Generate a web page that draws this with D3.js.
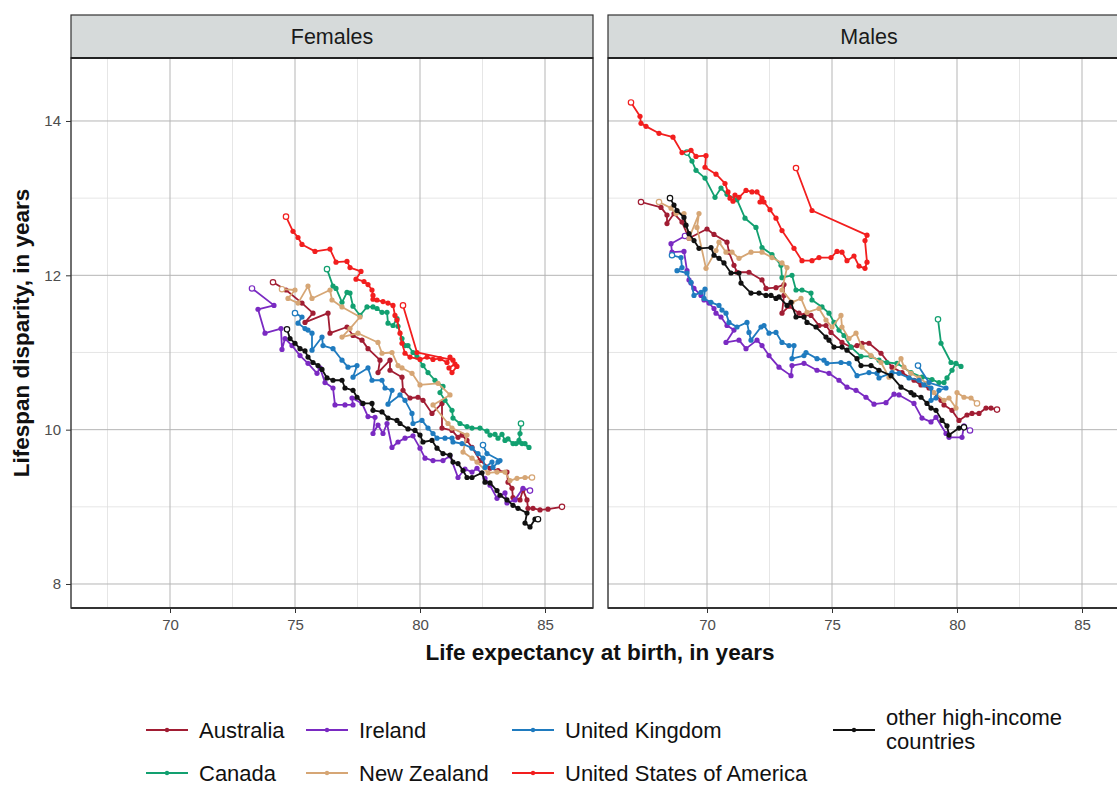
<!DOCTYPE html>
<html><head><meta charset="utf-8">
<script src="https://cdn.jsdelivr.net/npm/d3@7"></script>
<style>body{margin:0;background:#fff;overflow:hidden} text{font-family:"Liberation Sans", Arial, sans-serif;}</style>
</head><body><svg id="c" width="1117" height="785"></svg>
<script>
// ---------- categories ----------
const panels = ["Females", "Males"];
const countries = ["Australia", "Canada", "Ireland", "New Zealand", "United Kingdom", "United States of America", "other high-income countries"];
const colors = ["#A11D33", "#12A070", "#7A2AC2", "#D6A675", "#1F7BBF", "#F21E1E", "#111111"];
const xTicks = [70, 75, 80, 85];
const yTicks = [8, 10, 12, 14];
const xLabel = "Life expectancy at birth, in years";
const yLabel = "Lifespan disparity, in years";

// ---------- data: [life expectancy, lifespan disparity] ----------
const femAustralia = [[74.12,11.91],[74.64,11.81],[75.28,11.64],[75.72,11.51],[75.40,11.39],[76.32,11.51],[76.40,11.25],[77.08,11.33],[77.32,11.22],[77.68,11.16],[77.92,11.05],[78.40,10.90],[78.32,10.74],[78.80,10.90],[78.80,10.77],[79.28,10.68],[79.32,10.51],[79.60,10.41],[79.92,10.42],[80.12,10.38],[80.48,10.21],[80.88,10.34],[80.88,10.02],[81.28,9.99],[81.52,9.90],[81.68,9.93],[81.88,9.86],[82.08,9.77],[82.40,9.60],[82.80,9.50],[83.12,9.47],[83.48,9.45],[83.52,9.32],[83.68,9.24],[83.72,9.12],[84.00,9.09],[84.12,9.22],[84.28,9.09],[84.32,8.98],[84.52,8.98],[84.80,8.96],[85.12,8.97],[85.68,9.00]];
const femCanada = [[76.28,12.08],[76.52,11.86],[76.64,11.83],[76.88,11.65],[77.08,11.78],[77.20,11.77],[77.32,11.60],[77.60,11.48],[77.88,11.59],[78.12,11.59],[78.28,11.57],[78.48,11.52],[78.68,11.52],[78.72,11.38],[78.92,11.35],[79.08,11.44],[79.12,11.34],[79.28,11.18],[79.40,11.09],[79.52,11.09],[79.72,11.00],[79.88,10.94],[80.12,10.83],[80.32,10.74],[80.60,10.64],[80.92,10.56],[80.80,10.48],[81.00,10.38],[81.28,10.25],[81.32,10.15],[81.60,10.08],[81.88,10.04],[82.08,10.02],[82.40,10.02],[82.68,9.98],[82.80,9.93],[83.00,9.94],[83.12,9.89],[83.28,9.94],[83.40,9.86],[83.52,9.88],[83.72,9.82],[83.84,9.82],[84.08,9.82],[84.20,9.82],[84.36,9.77],[83.96,9.86],[84.00,9.95],[84.04,10.08]];
const femIreland = [[73.28,11.83],[74.16,11.61],[73.52,11.56],[73.80,11.25],[74.44,11.31],[74.48,11.04],[74.60,11.18],[74.88,11.09],[75.20,10.96],[75.52,10.86],[75.88,10.73],[76.00,10.80],[76.20,10.61],[76.52,10.54],[76.60,10.32],[77.00,10.32],[77.32,10.32],[77.28,10.41],[77.68,10.34],[77.92,10.17],[78.20,10.16],[78.12,9.95],[78.32,10.06],[78.52,9.95],[78.68,10.08],[78.88,9.77],[79.12,9.84],[79.40,9.89],[79.72,9.92],[80.00,9.76],[80.20,9.63],[80.52,9.60],[80.92,9.60],[81.20,9.66],[81.52,9.38],[81.80,9.49],[82.08,9.45],[82.28,9.50],[82.60,9.37],[82.80,9.28],[83.08,9.11],[83.40,9.18],[83.48,9.05],[83.80,9.09],[84.12,9.24],[84.40,9.21]];
const femNewZealand = [[74.48,11.82],[75.00,11.81],[74.72,11.70],[75.12,11.64],[75.52,11.86],[75.68,11.70],[76.40,11.81],[76.48,11.68],[76.88,11.59],[77.60,11.46],[77.20,11.31],[76.88,11.20],[77.52,11.25],[78.32,11.13],[78.48,10.99],[78.88,11.00],[79.12,10.83],[79.28,10.80],[79.68,10.73],[80.00,10.58],[80.72,10.60],[81.20,10.45],[80.52,10.32],[81.12,10.08],[81.28,10.02],[81.88,9.93],[81.72,9.71],[82.08,9.63],[82.28,9.58],[82.72,9.44],[83.08,9.45],[83.40,9.45],[83.60,9.34],[83.88,9.37],[84.20,9.38],[84.48,9.38]];
const femUK = [[75.00,11.51],[75.28,11.46],[75.12,11.38],[75.40,11.31],[75.52,11.29],[75.68,11.25],[75.68,11.03],[76.08,11.20],[76.12,11.09],[76.52,11.05],[76.88,10.90],[77.12,10.81],[77.48,10.83],[77.32,10.68],[77.92,10.80],[78.08,10.64],[78.48,10.64],[78.60,10.54],[78.88,10.51],[78.72,10.33],[79.20,10.45],[79.40,10.38],[79.68,10.21],[79.72,10.08],[80.08,10.12],[80.32,10.02],[80.52,9.95],[80.68,9.89],[81.00,9.89],[81.28,9.89],[81.32,9.84],[81.68,9.82],[82.08,9.76],[82.32,9.69],[82.52,9.63],[82.60,9.51],[82.88,9.58],[82.92,9.51],[83.12,9.58],[83.20,9.60],[82.68,9.69],[82.52,9.80]];
const femUSA = [[74.64,12.76],[74.92,12.57],[75.12,12.49],[75.28,12.40],[75.80,12.31],[76.40,12.34],[76.64,12.17],[77.08,12.18],[77.20,12.10],[77.64,12.05],[77.44,11.95],[77.76,11.92],[77.92,11.88],[78.08,11.81],[78.12,11.74],[78.12,11.69],[78.28,11.68],[78.52,11.66],[78.72,11.64],[78.92,11.61],[79.00,11.48],[79.08,11.42],[79.20,11.25],[79.28,11.12],[79.40,10.99],[79.60,10.94],[80.00,10.91],[80.28,10.94],[80.52,10.91],[80.80,10.92],[81.08,10.87],[81.20,10.94],[81.40,10.85],[81.16,10.80],[81.28,10.74],[81.48,10.82],[81.32,10.90],[79.88,11.00],[79.32,11.61]];
const femOther = [[74.68,11.30],[74.80,11.18],[75.00,11.12],[75.20,11.05],[75.40,11.02],[75.52,10.94],[75.72,10.87],[75.92,10.83],[76.08,10.78],[76.28,10.67],[76.52,10.64],[76.88,10.64],[77.00,10.54],[77.32,10.51],[77.48,10.42],[77.72,10.34],[78.08,10.34],[78.12,10.25],[78.48,10.23],[78.72,10.15],[79.08,10.12],[79.20,10.08],[79.52,10.01],[79.80,9.99],[80.00,9.93],[80.12,9.84],[80.48,9.86],[80.68,9.76],[80.92,9.69],[81.20,9.67],[81.32,9.58],[81.52,9.56],[81.72,9.47],[81.88,9.38],[82.08,9.38],[82.48,9.44],[82.60,9.32],[82.80,9.31],[83.08,9.21],[83.20,9.15],[83.48,9.09],[83.72,9.02],[83.92,8.98],[84.28,8.92],[84.20,8.79],[84.40,8.74],[84.60,8.84],[84.72,8.84]];

const malAustralia = [[67.36,12.95],[68.16,12.88],[68.40,12.78],[68.40,12.67],[68.68,12.80],[69.00,12.69],[69.28,12.48],[70.00,12.60],[70.28,12.53],[70.80,12.43],[70.88,12.30],[71.08,12.13],[71.20,12.04],[71.68,12.04],[72.20,11.94],[72.36,11.83],[72.76,11.84],[73.08,11.88],[73.08,11.74],[73.00,11.51],[73.28,11.60],[73.68,11.51],[73.88,11.48],[74.16,11.48],[74.48,11.35],[74.76,11.35],[74.96,11.26],[75.40,11.13],[75.76,11.07],[76.00,11.09],[76.20,11.12],[76.48,11.12],[76.96,10.99],[77.40,10.81],[77.80,10.74],[78.28,10.64],[78.56,10.58],[78.88,10.54],[79.36,10.38],[79.48,10.32],[79.80,10.25],[80.08,10.12],[80.40,10.19],[80.60,10.21],[80.88,10.21],[81.16,10.28],[81.36,10.28],[81.60,10.26]];
const malCanada = [[69.20,13.59],[69.40,13.48],[69.56,13.36],[69.92,13.26],[70.32,13.01],[70.56,13.13],[70.80,13.05],[71.20,12.98],[71.52,12.74],[71.96,12.62],[72.20,12.36],[72.60,12.27],[72.96,12.13],[73.00,11.97],[73.40,12.00],[73.56,11.81],[73.80,11.81],[74.16,11.77],[74.20,11.68],[74.60,11.59],[74.88,11.51],[75.08,11.39],[75.28,11.29],[75.48,11.22],[75.76,11.07],[76.16,10.95],[76.56,10.95],[76.88,10.90],[77.20,10.87],[77.60,10.86],[78.16,10.74],[78.60,10.68],[79.00,10.65],[79.28,10.61],[79.48,10.61],[79.60,10.67],[79.80,10.77],[79.96,10.86],[80.16,10.82],[79.76,10.87],[79.36,11.12],[79.24,11.43]];
const malIreland = [[69.12,12.51],[68.56,12.41],[68.60,12.30],[69.08,12.31],[69.20,12.06],[69.28,11.94],[69.36,11.90],[69.48,11.83],[69.76,11.74],[69.88,11.68],[70.08,11.64],[70.28,11.57],[70.36,11.51],[70.56,11.46],[70.80,11.35],[71.08,11.29],[70.76,11.13],[71.28,11.16],[71.56,11.05],[72.00,11.16],[72.20,11.09],[72.48,10.96],[72.88,10.81],[73.36,10.70],[73.40,10.83],[73.88,10.86],[74.40,10.77],[74.88,10.73],[75.28,10.64],[75.60,10.55],[75.96,10.51],[76.36,10.42],[76.68,10.33],[77.16,10.35],[77.48,10.46],[77.68,10.45],[78.28,10.34],[78.60,10.15],[78.96,10.10],[79.16,10.16],[79.56,9.95],[79.68,9.90],[80.20,9.90],[80.28,10.05],[80.52,9.99]];
const malNewZealand = [[68.08,12.95],[68.56,12.87],[68.76,12.80],[69.08,12.80],[69.28,12.48],[69.68,12.80],[69.60,12.62],[69.96,12.09],[70.36,12.32],[70.48,12.43],[70.76,12.30],[71.00,12.30],[71.28,12.22],[71.76,12.30],[72.20,12.30],[72.60,12.23],[73.00,12.16],[73.20,12.10],[73.00,11.81],[73.40,11.65],[73.76,11.70],[74.00,11.52],[74.48,11.57],[74.76,11.42],[75.00,11.33],[75.36,11.48],[75.40,11.33],[75.68,11.18],[75.96,11.25],[76.20,11.07],[76.56,10.96],[76.96,10.87],[77.28,10.68],[77.76,10.92],[77.88,10.81],[78.16,10.73],[78.48,10.67],[78.80,10.60],[79.08,10.48],[79.48,10.38],[79.68,10.41],[79.96,10.28],[80.00,10.48],[80.28,10.42],[80.56,10.41],[80.80,10.34]];
const malUK = [[68.60,12.26],[68.96,12.23],[69.00,12.10],[68.80,12.06],[69.20,12.03],[69.36,11.91],[69.48,11.74],[69.76,11.78],[69.92,11.82],[69.88,11.70],[70.16,11.65],[70.48,11.61],[70.60,11.55],[70.76,11.51],[70.88,11.39],[71.20,11.33],[71.60,11.39],[71.68,11.26],[71.76,11.16],[72.16,11.33],[72.28,11.35],[72.48,11.25],[72.76,11.26],[73.00,11.13],[73.28,11.09],[73.48,11.09],[73.40,10.92],[73.88,10.96],[73.96,11.00],[74.40,10.92],[74.68,10.90],[74.80,10.86],[75.36,10.87],[75.68,10.86],[76.00,10.70],[76.48,10.74],[76.80,10.73],[76.88,10.67],[77.40,10.74],[77.68,10.73],[78.08,10.67],[78.48,10.64],[78.68,10.58],[78.96,10.54],[78.96,10.38],[79.16,10.41],[79.28,10.51],[79.56,10.54],[78.88,10.61],[78.44,10.83]];
const malUSA = [[66.96,14.24],[67.32,14.06],[67.36,13.97],[67.56,13.93],[68.08,13.84],[68.64,13.79],[69.00,13.59],[69.36,13.62],[69.56,13.54],[69.96,13.55],[69.92,13.40],[70.36,13.31],[70.72,13.19],[70.84,13.08],[70.92,13.00],[71.04,12.96],[71.12,13.04],[71.28,13.01],[71.56,13.10],[71.80,13.08],[72.00,13.08],[72.20,13.00],[72.12,12.95],[72.28,12.95],[72.52,12.85],[72.76,12.74],[73.00,12.58],[73.48,12.35],[73.80,12.19],[74.20,12.19],[74.48,12.23],[74.96,12.23],[75.20,12.31],[75.40,12.30],[75.60,12.19],[75.88,12.25],[76.08,12.12],[76.32,12.09],[76.40,12.17],[76.32,12.45],[76.40,12.52],[74.20,12.84],[73.56,13.39]];
const malOther = [[68.52,13.00],[68.68,12.91],[68.80,12.84],[69.08,12.75],[69.16,12.65],[69.28,12.54],[69.48,12.45],[69.68,12.35],[70.16,12.36],[70.28,12.26],[70.48,12.22],[70.68,12.16],[70.96,12.03],[71.28,12.03],[71.36,11.90],[71.76,11.77],[72.08,11.77],[72.36,11.74],[72.56,11.74],[72.76,11.70],[72.88,11.72],[73.20,11.61],[73.36,11.65],[73.56,11.46],[73.88,11.46],[74.00,11.39],[74.36,11.33],[74.76,11.20],[74.88,11.16],[75.08,11.07],[75.40,11.07],[75.60,11.03],[76.00,10.92],[76.16,10.83],[76.56,10.83],[76.88,10.77],[77.36,10.70],[77.76,10.55],[78.16,10.48],[78.28,10.45],[78.56,10.42],[78.80,10.34],[78.96,10.28],[79.16,10.25],[79.40,10.12],[79.60,10.05],[79.68,9.93],[80.08,10.02],[80.28,10.03]];

const seriesByPanel = {
  Females: [femAustralia, femCanada, femIreland, femNewZealand, femUK, femUSA, femOther],
  Males:   [malAustralia, malCanada, malIreland, malNewZealand, malUK, malUSA, malOther]
};

// ---------- layout ----------
const svg = d3.select("#c");
const panelW = 522, panelTop = 58, panelBottom = 608, stripTop = 15;
const panelLefts = [71, 608];
const y = d3.scaleLinear().domain([7.689, 14.816]).range([panelBottom, panelTop]);
const xDomain = [66.04, 86.92];

panels.forEach((p, pi) => {
  const left = panelLefts[pi];
  const x = d3.scaleLinear().domain(xDomain).range([left, left + panelW]);
  const g = svg.append("g");
  const clipId = "clip" + pi;
  svg.append("clipPath").attr("id", clipId).append("rect")
    .attr("x", left).attr("y", panelTop).attr("width", panelW).attr("height", panelBottom - panelTop);

  // minor grid
  const xMinor = [67.5, 72.5, 77.5, 82.5];
  const yMinor = [9, 11, 13];
  g.selectAll(".vxm").data(xMinor).join("line")
    .attr("x1", d => x(d)).attr("x2", d => x(d)).attr("y1", panelTop).attr("y2", panelBottom)
    .attr("stroke", "#e0e0e0").attr("stroke-width", 0.8);
  g.selectAll(".hym").data(yMinor).join("line")
    .attr("x1", left).attr("x2", left + panelW).attr("y1", d => y(d)).attr("y2", d => y(d))
    .attr("stroke", "#e0e0e0").attr("stroke-width", 0.8);
  // major grid
  g.selectAll(".vx").data(xTicks).join("line")
    .attr("x1", d => x(d)).attr("x2", d => x(d)).attr("y1", panelTop).attr("y2", panelBottom)
    .attr("stroke", "#b5b5b5").attr("stroke-width", 1);
  g.selectAll(".hy").data(yTicks).join("line")
    .attr("x1", left).attr("x2", left + panelW).attr("y1", d => y(d)).attr("y2", d => y(d))
    .attr("stroke", "#b5b5b5").attr("stroke-width", 1);

  // series
  const dg = g.append("g").attr("clip-path", `url(#${clipId})`);
  const line = d3.line().x(d => x(d[0])).y(d => y(d[1]));
  seriesByPanel[p].forEach((data, si) => {
    const col = colors[si];
    dg.append("path").attr("d", line(data)).attr("fill", "none")
      .attr("stroke", col).attr("stroke-width", 1.8).attr("stroke-linejoin", "round");
    dg.selectAll(null).data(data).join("circle")
      .attr("cx", d => x(d[0])).attr("cy", d => y(d[1])).attr("r", (d, i) => (i === 0 || i === data.length - 1) ? 2.7 : 2.6)
      .attr("fill", (d, i) => (i === 0 || i === data.length - 1) ? "#fff" : col)
      .attr("stroke", col).attr("stroke-width", (d, i) => (i === 0 || i === data.length - 1) ? 1.2 : 0);
  });

  // panel border
  g.append("rect").attr("x", left).attr("y", panelTop).attr("width", panelW).attr("height", panelBottom - panelTop)
    .attr("fill", "none").attr("stroke", "#333").attr("stroke-width", 1.4);
  g.append("line").attr("x1", left).attr("x2", left + panelW).attr("y1", panelBottom).attr("y2", panelBottom)
    .attr("stroke", "#333").attr("stroke-width", 2);

  // strip
  g.append("rect").attr("x", left).attr("y", stripTop).attr("width", panelW).attr("height", panelTop - stripTop)
    .attr("fill", "#d6dada").attr("stroke", "#333").attr("stroke-width", 1.2);
  g.append("line").attr("x1", left).attr("x2", left + panelW).attr("y1", panelTop).attr("y2", panelTop)
    .attr("stroke", "#222").attr("stroke-width", 2.2);
  g.append("text").attr("x", left + panelW / 2).attr("y", (stripTop + panelTop) / 2 + 7.5)
    .attr("text-anchor", "middle").attr("font-size", 21.5).attr("fill", "#1a1a1a").text(p);

  // x axis
  const xa = svg.append("g").attr("transform", `translate(0,${panelBottom})`)
    .call(d3.axisBottom(x).tickValues(xTicks).tickSize(5).tickPadding(6).tickFormat(d3.format("d")));
  xa.select(".domain").remove();
  xa.selectAll("line").attr("stroke", "#333");
  xa.selectAll("text").attr("font-size", 15).attr("fill", "#4d4d4d").attr("font-family", "Liberation Sans, Arial, sans-serif");

  if (pi === 0) {
    const ya = svg.append("g").attr("transform", `translate(${left},0)`)
      .call(d3.axisLeft(y).tickValues(yTicks).tickSize(5).tickPadding(5).tickFormat(d3.format("d")));
    ya.select(".domain").remove();
    ya.selectAll("line").attr("stroke", "#333");
    ya.selectAll("text").attr("font-size", 15).attr("fill", "#4d4d4d").attr("font-family", "Liberation Sans, Arial, sans-serif");
  }
});

// axis titles
svg.append("text").attr("x", 600).attr("y", 660).attr("text-anchor", "middle")
  .attr("font-size", 22.5).attr("font-weight", "bold").attr("fill", "#111").text(xLabel);
svg.append("text").attr("transform", "translate(29,333) rotate(-90)").attr("text-anchor", "middle")
  .attr("font-size", 22.5).attr("font-weight", "bold").attr("fill", "#111").text(yLabel);

// legend
const legendPos = [
  {x: 146, y: 730}, {x: 146, y: 773},
  {x: 306, y: 730}, {x: 306, y: 773},
  {x: 512, y: 730}, {x: 512, y: 773},
  {x: 833, y: 730}
];
countries.forEach((c, i) => {
  const lp = legendPos[i];
  const lg = svg.append("g").attr("transform", `translate(${lp.x},${lp.y})`);
  lg.append("line").attr("x1", 0).attr("x2", 42).attr("y1", 0).attr("y2", 0)
    .attr("stroke", colors[i]).attr("stroke-width", 1.8);
  lg.append("circle").attr("cx", 21).attr("cy", 0).attr("r", 2.2).attr("fill", colors[i]);
  if (i === 6) {
    lg.append("text").attr("x", 53).attr("y", -5).attr("font-size", 22).attr("fill", "#111").text("other high-income");
    lg.append("text").attr("x", 53).attr("y", 19).attr("font-size", 22).attr("fill", "#111").text("countries");
  } else {
    lg.append("text").attr("x", 53).attr("y", 8).attr("font-size", 22).attr("fill", "#111").text(c);
  }
});
</script></body></html>
